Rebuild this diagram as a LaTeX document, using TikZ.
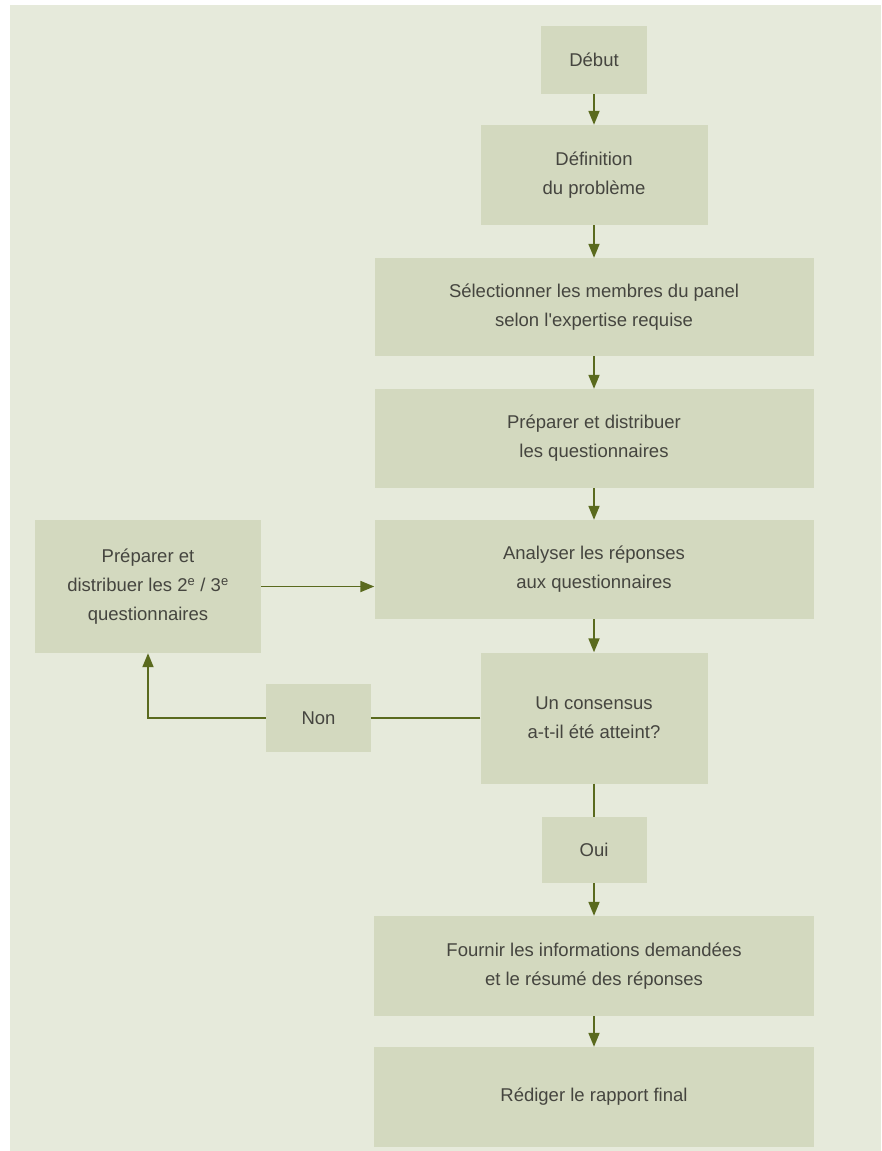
\documentclass[tikz,border=0pt]{standalone}
\usepackage{fontspec}
\setmainfont{Liberation Sans}
\usetikzlibrary{arrows.meta}
\definecolor{bgc}{HTML}{E6EADB}
\definecolor{boxc}{HTML}{D3D9BF}
\definecolor{linec}{HTML}{5A6A1E}
\definecolor{txtc}{HTML}{45453F}
\begin{document}
\begin{tikzpicture}[x=1pt,y=-1pt,
  box/.style={fill=boxc,draw=none,inner sep=0pt,align=center,text=txtc,
    font=\fontsize{18.5}{29}\selectfont},
  conn/.style={draw=linec,line width=1.8pt},
  arr/.style={conn,-{Triangle[length=14pt,width=11pt]}}]
\useasboundingbox (0,0) rectangle (881,1151);
\fill[white] (0,0) rectangle (881,1151);
\fill[bgc] (10,5) rectangle (881,1151);

\node[box,minimum width=106pt,minimum height=68pt] (debut) at (594,60) {Début};
\node[box,minimum width=227pt,minimum height=100pt] (defn) at (594,175) {Définition\\du problème};
\node[box,minimum width=439pt,minimum height=98pt] (select) at (594,307) {Sélectionner les membres du panel\\selon l\textquotesingle expertise requise};
\node[box,minimum width=439pt,minimum height=99pt] (prep) at (594,438.5) {Préparer et distribuer\\les questionnaires};
\node[box,minimum width=439pt,minimum height=99pt] (analyse) at (594,569.5) {Analyser les réponses\\aux questionnaires};
\node[box,minimum width=226pt,minimum height=133pt] (left) at (148,586.5) {Préparer et\\distribuer les 2\textsuperscript{e} / 3\textsuperscript{e}\\questionnaires};
\node[box,minimum width=227pt,minimum height=131pt] (consensus) at (594,718) {Un consensus\\a-t-il été atteint?};
\node[box,minimum width=105pt,minimum height=68pt] (non) at (318.5,718) {Non};
\node[box,minimum width=105pt,minimum height=66pt] (oui) at (594,850) {Oui};
\node[box,minimum width=440pt,minimum height=100pt] (fournir) at (594,966) {Fournir les informations demandées\\et le résumé des réponses};
\node[box,minimum width=440pt,minimum height=100pt] (rediger) at (594,1097) {Rédiger le rapport final};

\draw[arr] (debut) -- (defn);
\draw[arr] (defn) -- (select);
\draw[arr] (select) -- (prep);
\draw[arr] (prep) -- (analyse);
\draw[arr] (analyse) -- (consensus);
\draw[arr] (left.east) -- (left.east -| analyse.west);
\draw[conn] (consensus) -- (non);
\draw[arr] (non.west) -- (non.west -| left.south) -- (left.south);
\draw[conn] (consensus) -- (oui);
\draw[arr] (oui) -- (fournir);
\draw[arr] (fournir) -- (rediger);
\end{tikzpicture}
\end{document}
